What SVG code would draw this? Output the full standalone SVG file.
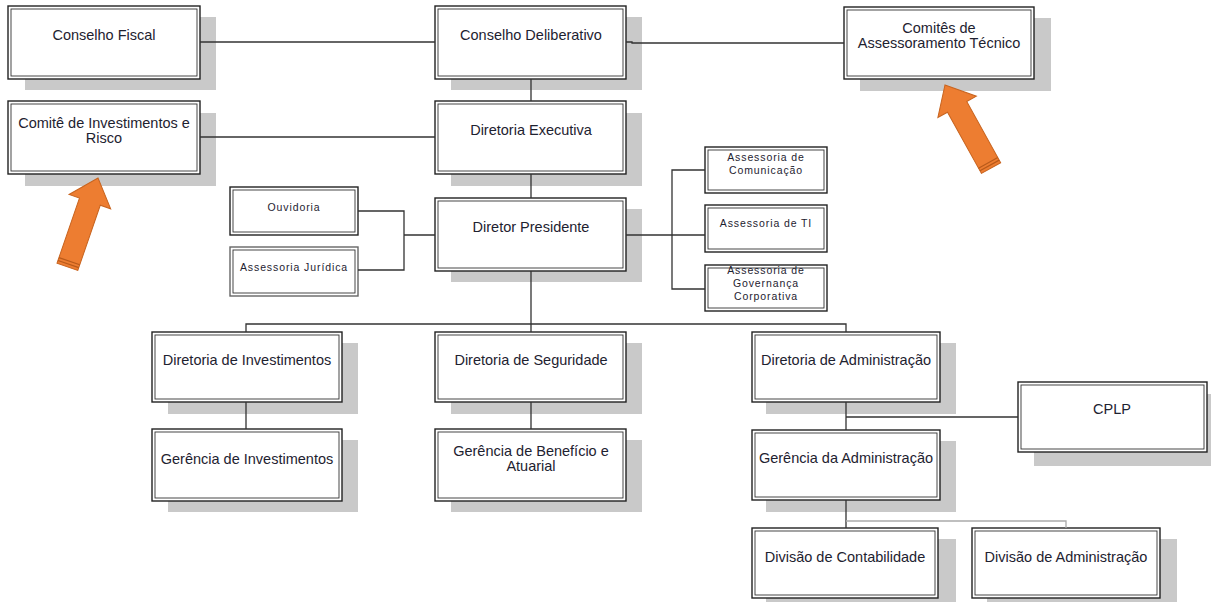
<svg xmlns="http://www.w3.org/2000/svg" width="1211" height="602" viewBox="0 0 1211 602">
<style>
.sh{fill:#c9c9c9}
.ob{fill:#fff;stroke:#222;stroke-width:1.4}
.ib{fill:none;stroke:#333;stroke-width:0.9}
.obl{fill:#fff;stroke:#666;stroke-width:1.4}
.t{font-family:"Liberation Sans",Arial,sans-serif;font-size:14.5px;fill:#1e2230;text-anchor:middle}
.s{font-family:"Liberation Sans",Arial,sans-serif;font-size:10.5px;letter-spacing:0.9px;fill:#1e2230;text-anchor:middle}
.c{fill:none;stroke:#333;stroke-width:1.3}
.cl{fill:none;stroke:#aaa;stroke-width:1.3}
.ar{fill:#ED7D31;stroke:#c8641f;stroke-width:1}
.st{stroke:#b85a1a;stroke-width:1.2}
</style>
<rect width="1211" height="602" fill="#fff"/>
<g id="conselho-fiscal"><rect class="sh" x="25" y="17" width="191" height="73"/><rect class="ob" x="8" y="6" width="192" height="73"/><rect class="ib" x="11" y="9" width="186" height="67"/><text class="t" x="104" y="40">Conselho Fiscal</text></g>
<g id="conselho-deliberativo"><rect class="sh" x="451" y="17" width="191" height="73"/><rect class="ob" x="435" y="6" width="191" height="73"/><rect class="ib" x="438" y="9" width="185" height="67"/><text class="t" x="531" y="40">Conselho Deliberativo</text></g>
<g id="comites-assessoramento"><rect class="sh" x="860" y="18" width="191" height="73"/><rect class="ob" x="844" y="7" width="190" height="72"/><rect class="ib" x="847" y="10" width="184" height="66"/><text class="t" x="939" y="33">Comitês de</text><text class="t" x="939" y="48">Assessoramento Técnico</text></g>
<g id="comite-investimentos"><rect class="sh" x="25" y="113" width="191" height="73"/><rect class="ob" x="8" y="101" width="192" height="73"/><rect class="ib" x="11" y="104" width="186" height="67"/><text class="t" x="104" y="128">Comitê de Investimentos e</text><text class="t" x="104" y="143">Risco</text></g>
<g id="diretoria-executiva"><rect class="sh" x="451" y="113" width="191" height="73"/><rect class="ob" x="435" y="101" width="191" height="73"/><rect class="ib" x="438" y="104" width="185" height="67"/><text class="t" x="531" y="135">Diretoria Executiva</text></g>
<g id="diretor-presidente"><rect class="sh" x="451" y="209" width="191" height="73"/><rect class="ob" x="435" y="198" width="191" height="73"/><rect class="ib" x="438" y="201" width="185" height="67"/><text class="t" x="531" y="232">Diretor Presidente</text></g>
<g id="ouvidoria"><rect class="ob" x="230" y="187" width="128" height="48"/><rect class="ib" x="233" y="190" width="122" height="42"/><text class="s" x="294" y="211">Ouvidoria</text></g>
<g id="assessoria-juridica"><rect class="obl" x="230" y="247" width="128" height="49"/><rect class="ib" x="233" y="250" width="122" height="43"/><text class="s" x="294" y="271">Assessoria Jurídica</text></g>
<g id="assessoria-comunicacao"><rect class="ob" x="705" y="147" width="122" height="46"/><rect class="ib" x="708" y="150" width="116" height="40"/><text class="s" x="766" y="161">Assessoria de</text><text class="s" x="766" y="174">Comunicação</text></g>
<g id="assessoria-ti"><rect class="ob" x="705" y="205" width="122" height="47"/><rect class="ib" x="708" y="208" width="116" height="41"/><text class="s" x="766" y="227">Assessoria de TI</text></g>
<g id="assessoria-governanca"><rect class="ob" x="705" y="265" width="122" height="46"/><rect class="ib" x="708" y="268" width="116" height="40"/><text class="s" x="766" y="274">Assessoria de</text><text class="s" x="766" y="287">Governança</text><text class="s" x="766" y="300">Corporativa</text></g>
<g id="diretoria-investimentos"><rect class="sh" x="168" y="343" width="190" height="71"/><rect class="ob" x="152" y="332" width="190" height="70"/><rect class="ib" x="155" y="335" width="184" height="64"/><text class="t" x="247" y="365">Diretoria de Investimentos</text></g>
<g id="diretoria-seguridade"><rect class="sh" x="451" y="343" width="191" height="71"/><rect class="ob" x="435" y="332" width="191" height="70"/><rect class="ib" x="438" y="335" width="185" height="64"/><text class="t" x="531" y="365">Diretoria de Seguridade</text></g>
<g id="diretoria-administracao"><rect class="sh" x="766" y="343" width="190" height="71"/><rect class="ob" x="752" y="332" width="188" height="70"/><rect class="ib" x="755" y="335" width="182" height="64"/><text class="t" x="846" y="365">Diretoria de Administração</text></g>
<g id="gerencia-investimentos"><rect class="sh" x="168" y="440" width="190" height="72"/><rect class="ob" x="152" y="429" width="190" height="72"/><rect class="ib" x="155" y="432" width="184" height="66"/><text class="t" x="247" y="464">Gerência de Investimentos</text></g>
<g id="gerencia-beneficio"><rect class="sh" x="451" y="440" width="191" height="72"/><rect class="ob" x="435" y="429" width="191" height="72"/><rect class="ib" x="438" y="432" width="185" height="66"/><text class="t" x="531" y="456">Gerência de Benefício e</text><text class="t" x="531" y="471">Atuarial</text></g>
<g id="cplp"><rect class="sh" x="1034" y="394" width="190" height="72"/><rect class="ob" x="1018" y="382" width="189" height="70"/><rect class="ib" x="1021" y="385" width="183" height="64"/><text class="t" x="1112" y="414">CPLP</text></g>
<g id="gerencia-administracao"><rect class="sh" x="766" y="441" width="190" height="71"/><rect class="ob" x="752" y="430" width="188" height="70"/><rect class="ib" x="755" y="433" width="182" height="64"/><text class="t" x="846" y="463">Gerência da Administração</text></g>
<g id="divisao-contabilidade"><rect class="sh" x="766" y="539" width="190" height="63"/><rect class="ob" x="752" y="528" width="186" height="70"/><rect class="ib" x="755" y="531" width="180" height="64"/><text class="t" x="845" y="562">Divisão de Contabilidade</text></g>
<g id="divisao-administracao"><rect class="sh" x="987" y="539" width="190" height="63"/><rect class="ob" x="972" y="528" width="188" height="70"/><rect class="ib" x="975" y="531" width="182" height="64"/><text class="t" x="1066" y="562">Divisão de Administração</text></g>
<g id="connectors">
<path class="c" d="M200 42H435"/>
<path class="c" d="M626 42H632V43H844"/>
<path class="c" d="M200 137H435"/>
<path class="c" d="M531 79V101M531 174V198M531 271V324"/>
<path class="c" d="M358 211H404V270H358M404 235H435"/>
<path class="c" d="M626 235H672M705 170H672V289H705M672 235H705"/>
<path class="c" d="M246 332V324H846V332M531 324V332"/>
<path class="c" d="M246 402V429M531 402V429"/>
<path class="c" d="M846 402V430M846 417H1018M846 500V528"/>
<path class="cl" d="M846 521H1066V528"/>
</g>
<g id="arrow-left" transform="translate(98,178) rotate(19)"><path class="ar" d="M0 0L22 25H11V94H-11V25H-22Z"/><path class="st" d="M-11 88H11M-11 91H11"/></g>
<g id="arrow-right" transform="translate(945,85) rotate(-29)"><path class="ar" d="M0 0L22 25H11V95H-11V25H-22Z"/><path class="st" d="M-11 89H11M-11 92H11"/></g>
</svg>
